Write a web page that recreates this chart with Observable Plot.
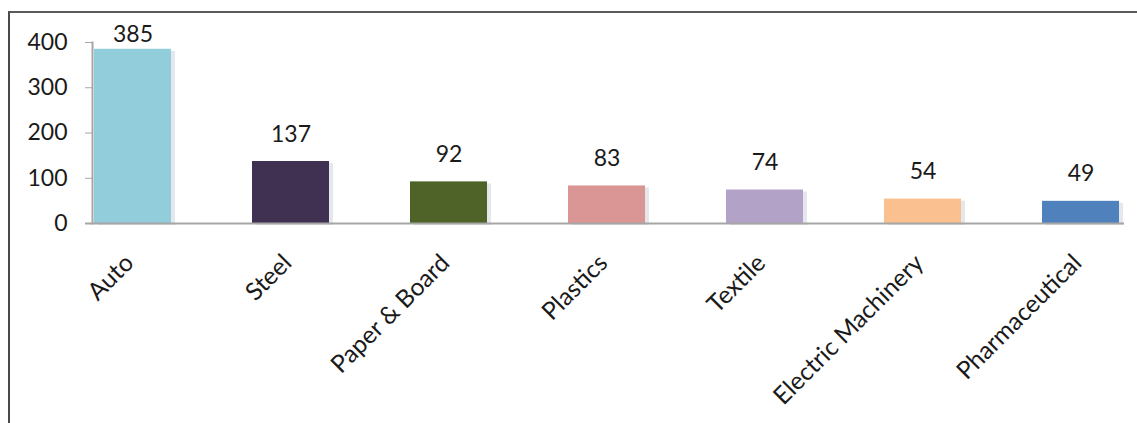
<!DOCTYPE html>
<html>
<head>
<meta charset="utf-8">
<script src="https://cdn.jsdelivr.net/npm/d3@7"></script>
<script src="https://cdn.jsdelivr.net/npm/@observablehq/plot@0.6"></script>
<style>
  html, body { margin: 0; padding: 0; background: #fff; }
  #wrap { position: relative; width: 1137px; height: 423px; overflow: hidden; }
  #border { position: absolute; left: 8px; top: 11px; width: 1200px; height: 500px;
            border-top: 2px solid #5a5a5a; border-left: 2px solid #4a4a4a; pointer-events: none; }
  #chart { position: absolute; left: 0; top: 0; }
</style>
</head>
<body>
<div id="wrap"><div id="chart"></div><div id="border"></div></div>
<script>
const categories = ["Auto", "Steel", "Paper & Board", "Plastics", "Textile", "Electric Machinery", "Pharmaceutical"];
const values = [385, 137, 92, 83, 74, 54, 49];
const yTicks = [0, 100, 200, 300, 400];
const colors = ["#92cddc", "#403152", "#4f6228", "#d99694", "#b3a2c7", "#fac090", "#4f81bd"];

const data = categories.map((c, i) => ({category: c, value: values[i]}));
const font = "Lato, 'Open Sans', sans-serif";

const chart = Plot.plot({
  width: 1137,
  height: 423,
  marginTop: 42,
  marginBottom: 200,
  marginLeft: 92,
  marginRight: 16,
  style: {fontFamily: font, background: "transparent"},
  x: {type: "band", domain: categories, paddingInner: 0.515, paddingOuter: 0, axis: null},
  y: {domain: [0, 400], axis: null},
  color: {domain: categories, range: colors},
  marks: [
    Plot.barY(data, {x: "category", y: "value", fill: "#e4e7ec", dx: 4, dy: 2}),
    Plot.barY(data, {x: "category", y: "value", fill: "category"}),
    Plot.frame({anchor: "left", stroke: "#a6a6a6", strokeWidth: 2}),
    Plot.ruleY([0], {stroke: "#a6a6a6", strokeWidth: 2, insetLeft: -7, insetRight: -3}),
    Plot.axisY({ticks: yTicks, label: null, tickSize: 7, tickPadding: 18, fontSize: 23, stroke: "#a6a6a6", fill: "#1a1a1a", tickFormat: d => String(d)}),
    Plot.text(data, {filter: d => d.value < 380, x: "category", y: "value", text: d => String(d.value), lineAnchor: "bottom", dy: -20, fontSize: 23, fill: "#1a1a1a"}),
    Plot.text(data, {filter: d => d.value >= 380, x: "category", y: "value", text: d => String(d.value), lineAnchor: "bottom", dy: -7, fontSize: 23, fill: "#1a1a1a"}),
    Plot.text(categories, {x: d => d, frameAnchor: "bottom", rotate: -45, textAnchor: "end", lineAnchor: "bottom", dx: 2, dy: 41, fontSize: 24.5, fill: "#1a1a1a"})
  ]
});
document.getElementById("chart").appendChild(chart);
</script>
</body>
</html>
